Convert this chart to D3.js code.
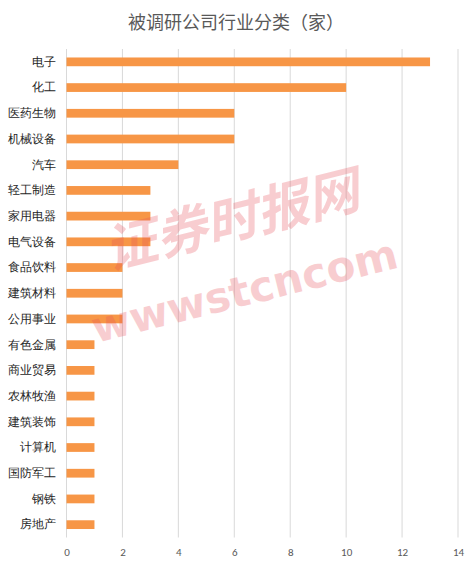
<!DOCTYPE html>
<html>
<head>
<meta charset="utf-8">
<script src="https://cdn.jsdelivr.net/npm/d3@7"></script>
<style>
  body { margin: 0; background: #fff; }
  svg { display: block; font-family: "Noto Sans CJK SC", "Noto Sans", sans-serif; }
</style>
</head>
<body>
<svg width="471" height="566"></svg>
<script>
// industry categories, top to bottom
const industries = ["电子", "化工", "医药生物", "机械设备", "汽车", "轻工制造", "家用电器", "电气设备",
  "食品饮料", "建筑材料", "公用事业", "有色金属", "商业贸易", "农林牧渔", "建筑装饰", "计算机",
  "国防军工", "钢铁", "房地产"];
const counts = [13, 10, 6, 6, 4, 3, 3, 3, 2, 2, 2, 1, 1, 1, 1, 1, 1, 1, 1];
const xTicks = [0, 2, 4, 6, 8, 10, 12, 14];
const chartTitle = "被调研公司行业分类（家）";

const svg = d3.select("svg");
const margin = {left: 66.5, right: 13, top: 49, bottom: 28.5};
const W = 471, H = 566;

const x = d3.scaleLinear().domain([0, 14]).range([margin.left, W - margin.right]);
const y = d3.scaleBand().domain(industries).range([margin.top, H - margin.bottom]).paddingInner(0.66).paddingOuter(0.33);

// title
svg.append("text")
  .attr("x", 236).attr("y", 29)
  .attr("text-anchor", "middle")
  .style("font-size", "18px")
  .style("fill", "#595959")
  .text(chartTitle);

// grid
svg.append("g").selectAll("line")
  .data(xTicks)
  .enter().append("line")
  .attr("x1", d => x(d)).attr("x2", d => x(d))
  .attr("y1", margin.top).attr("y2", H - margin.bottom)
  .style("stroke", "#d9d9d9").style("stroke-width", 1);

// bars
svg.append("g").selectAll("rect")
  .data(industries)
  .enter().append("rect")
  .attr("x", x(0))
  .attr("y", d => y(d))
  .attr("width", (d, i) => x(counts[i]) - x(0))
  .attr("height", y.bandwidth())
  .style("fill", "#F79646");

// x axis labels
const xAxis = svg.append("g")
  .attr("transform", "translate(0," + (H - margin.bottom) + ")")
  .call(d3.axisBottom(x).tickValues(xTicks).tickSize(0).tickPadding(11));
xAxis.select(".domain").remove();
xAxis.selectAll("text").style("font-size", "11px").style("fill", "#595959")
  .style("font-family", "Calibri, 'Liberation Sans', sans-serif");

// y axis labels
const yAxis = svg.append("g")
  .attr("transform", "translate(" + (margin.left - 11) + ",0)")
  .call(d3.axisLeft(y).tickSize(0).tickPadding(0));
yAxis.select(".domain").remove();
yAxis.selectAll("text").style("font-size", "12px").style("fill", "#262626");

// watermark
const wm = svg.append("g").style("pointer-events", "none");
wm.append("text")
  .attr("transform", "translate(236,238) rotate(-14)")
  .attr("text-anchor", "middle")
  .style("font-size", "52px")
  .style("font-weight", "bold")
  .style("font-style", "italic")
  .style("fill", "#e8505b")
  .style("opacity", 0.28)
  .text("证券时报网");
wm.append("text")
  .attr("transform", "translate(248,305) rotate(-14)")
  .attr("text-anchor", "middle")
  .style("font-size", "42px")
  .style("font-weight", "bold")
  .style("font-family", "'DejaVu Sans', sans-serif")
  .style("fill", "#e8505b")
  .style("opacity", 0.28)
  .text("wwwstcncom");
</script>
</body>
</html>
